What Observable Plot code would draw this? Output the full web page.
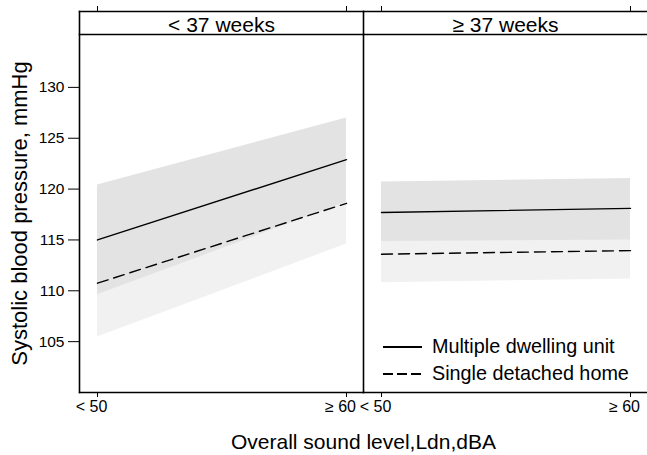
<!DOCTYPE html>
<html><head><meta charset="utf-8">
<script src="https://cdn.jsdelivr.net/npm/d3@7"></script>
<script src="https://cdn.jsdelivr.net/npm/@observablehq/plot@0.6"></script>
<style>
body{margin:0;background:#fff;}
#wrap{position:relative;width:647px;height:455px;font-family:"Liberation Sans",Arial,Helvetica,sans-serif;}
#wrap svg.plot{position:absolute;left:0;top:0;}
#legend{position:absolute;left:383px;top:333px;font-size:19.8px;color:#000;line-height:1;}
.row{display:flex;align-items:center;height:27px;}
.row svg{margin-right:10px;}
</style></head><body><div id="wrap"><div id="legend"></div></div>
<script>
// ---- data ----
const panels = ["< 37 weeks", "≥ 37 weeks"];
const soundLevels = ["< 50", "≥ 60"];
const groups = ["Multiple dwelling unit", "Single detached home"];
const yTicks = [105, 110, 115, 120, 125, 130];
// [panel][soundLevel]
const multipleMean = [[115.0, 122.9], [117.7, 118.1]];
const multipleLow  = [[109.6, 118.7], [114.85, 115.0]];
const multipleHigh = [[120.4, 127.0], [120.7, 121.05]];
const singleMean   = [[110.75, 118.6], [113.6, 113.95]];
const singleLow    = [[105.45, 114.6], [110.8, 111.15]];
const singleHigh   = [[116.0, 122.7], [116.4, 116.7]];
const xTitle = "Overall sound level,Ldn,dBA";
const yTitle = "Systolic blood pressure, mmHg";

function build(mean, low, high, group) {
  const out = [];
  panels.forEach((p, i) => soundLevels.forEach((s, j) => {
    out.push({panel: p, level: s, group, mean: mean[i][j], lo: low[i][j], hi: high[i][j]});
  }));
  return out;
}
const multiple = build(multipleMean, multipleLow, multipleHigh, groups[0]);
const single = build(singleMean, singleLow, singleHigh, groups[1]);

const font = '"Liberation Sans",Arial,Helvetica,sans-serif';
const chart = Plot.plot({
  width: 647,
  height: 455,
  marginLeft: 78,
  marginRight: 0,
  marginTop: 34,
  marginBottom: 63,
  style: {fontFamily: font, color: "#000", background: "#fff"},
  fx: {domain: panels, padding: 0, axis: null},
  x: {type: "point", domain: soundLevels, padding: 0.069, axis: null},
  y: {domain: [100, 135.2], axis: null},
  marks: [
    Plot.areaY(single, {fx: "panel", x: "level", y1: "lo", y2: "hi", fill: "#f1f1f1"}),
    Plot.areaY(multiple, {fx: "panel", x: "level", y1: "lo", y2: "hi", fill: "#e3e3e3"}),
    Plot.line(multiple, {fx: "panel", x: "level", y: "mean", stroke: "#000", strokeWidth: 1.4}),
    Plot.line(single, {fx: "panel", x: "level", y: "mean", stroke: "#000", strokeWidth: 1.4, strokeDasharray: "11,6"}),
    Plot.frame({anchor: "left", insetTop: -23, stroke: "#000", strokeWidth: 1.6}),
    Plot.frame({anchor: "bottom", stroke: "#000", strokeWidth: 1.4}),
    Plot.frame({anchor: "top", stroke: "#000", strokeWidth: 1.6}),
    Plot.frame({anchor: "top", insetTop: -23, stroke: "#000", strokeWidth: 1.4}),
    Plot.axisY({anchor: "left", ticks: yTicks, tickSize: 11, tickPadding: 4, fontSize: 15.5, label: null, stroke: "#000"}),
    Plot.axisY({anchor: "left", ticks: [], tickSize: 0, fontSize: 22, label: yTitle, labelAnchor: "center", labelArrow: "none", labelOffset: 68, dy: 10}),
    Plot.axisX({anchor: "bottom", tickSize: 5, fill: "none", label: null, stroke: "#000"}),
    Plot.axisX({anchor: "bottom", tickSize: 0, tickPadding: 8, dx: -6, fontSize: 16, label: null}),
    Plot.axisX({anchor: "top", tickSize: 6, fill: "none", label: null, dy: -23, stroke: "#000"}),
    Plot.axisFx({anchor: "top", tickSize: 0, tickPadding: 3, fontSize: 21, label: null}),
    Plot.axisFx({anchor: "bottom", ticks: [], tickSize: 0, fontSize: 21, label: xTitle, labelAnchor: "center", labelArrow: "none", labelOffset: 56})
  ]
});
chart.classList.add("plot");
const wrap = document.getElementById("wrap");
wrap.insertBefore(chart, wrap.firstChild);

// legend
const legend = document.getElementById("legend");
groups.forEach((g, i) => {
  const row = document.createElement("div");
  row.className = "row";
  row.innerHTML = `<svg width="39" height="4"><line x1="0" x2="39" y1="2" y2="2" stroke="#000" stroke-width="2" ${i === 1 ? 'stroke-dasharray="10,4"' : ''}/></svg><span>${g}</span>`;
  legend.appendChild(row);
});
</script>
</body></html>
